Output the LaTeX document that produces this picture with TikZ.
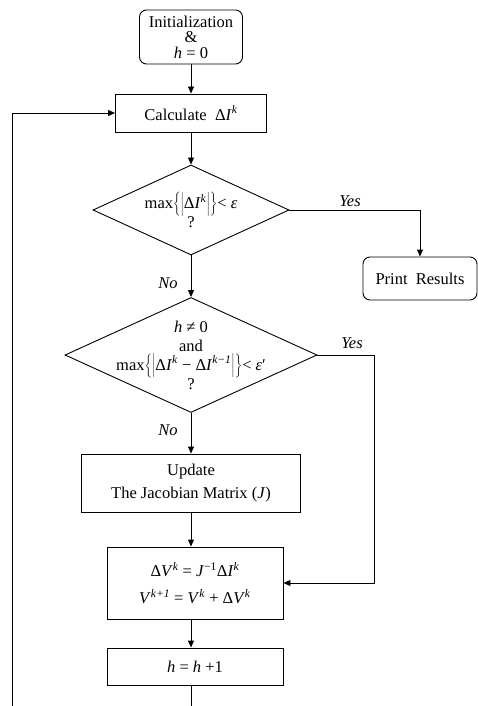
\documentclass[tikz,border=0pt]{standalone}
\usepackage{fontspec}
\setmainfont{Liberation Serif}
\usetikzlibrary{shapes.geometric,arrows.meta}
\newcommand{\vi}[1]{\textit{#1}}
\newcommand{\supi}[1]{\textsuperscript{\textit{#1}}}
\newcommand{\BL}{$\biggl\{\biggl|$}
\newcommand{\BR}{$\biggr|\biggr\}$}
\begin{document}
\begin{tikzpicture}[x=1pt,y=-1pt,
  font=\fontsize{16.5}{15.5}\selectfont,
  box/.style={draw, line width=0.9pt, inner sep=0pt, align=center},
  rbox/.style={box, rounded corners=7pt},
  dia/.style={draw, diamond, line width=0.9pt, inner sep=0pt},
  arr/.style={line width=0.9pt, -{Triangle[length=7pt,width=6pt]}},
  ln/.style={line width=0.9pt},
  lab/.style={font=\fontsize{16.5}{18}\selectfont\itshape}]
\useasboundingbox (0,0) rectangle (477,706);

\node[rbox, minimum width=103, minimum height=54] (init) at (191,37) {Initialization\\\&\\\vi{h} = 0};
\node[box, minimum width=151, minimum height=38] (calc) at (191,113) {Calculate\ \ Δ\vi{I}\supi{k}};
\node[dia, minimum width=196, minimum height=90,
  label={[align=center,font=\fontsize{16.5}{19}\selectfont]center:max\BL Δ\vi{I}\supi{k}\BR< \vi{ε}\\?}] (d1) at (191,210) {};
\node[rbox, minimum width=114, minimum height=43] (print) at (420,278.5) {Print\ \ Results};
\node[dia, minimum width=252, minimum height=115,
  label={[align=center,font=\fontsize{16.5}{19}\selectfont]center:\vi{h} ≠ 0\\and\\max\BL Δ\vi{I}\supi{k} − Δ\vi{I}\supi{k−1}\BR< \vi{ε}′\\?}] (d2) at (191,355) {};
\node[box, minimum width=219, minimum height=58, font=\fontsize{16.5}{23}\selectfont] (upd) at (191,483) {Update\\The Jacobian Matrix (\vi{J})};
\node[box, minimum width=176, minimum height=72, font=\fontsize{16.5}{27}\selectfont] (dv) at (195,583) {Δ\vi{V}\supi{k} = \vi{J}\textsuperscript{−1}Δ\vi{I}\supi{k}\\\vi{V}\supi{k+1} = \vi{V}\supi{k} + Δ\vi{V}\supi{k}};
\node[box, minimum width=176, minimum height=37] (hh) at (195,666.5) {\vi{h} = \vi{h} +1};

\node[lab] (yes1) at (350,201) {Yes};
\node[lab] (yes2) at (352,343) {Yes};
\node[lab] (no1) at (168,283) {No};
\node[lab] (no2) at (168,430) {No};

\coordinate (c1) at (374,355);
\coordinate (bot) at (191,706);
\coordinate (bl) at (12,706);

\draw[arr] (init) -- (calc);
\draw[arr] (calc) -- (d1);
\draw[arr] (d1.east) -| (print.north);
\draw[arr] (d1.south) -- (d2.north);
\draw[arr] (d2.east) -- (c1) |- (dv.east);
\draw[arr] (d2.south) -- (upd.north);
\draw[arr] (upd.south) -- (upd.south |- dv.north);
\draw[arr] (dv.south -| bot) -- (hh.north -| bot);
\draw[ln] (hh.south -| bot) -- (bot);
\draw[arr] (bl) |- (calc.west);
\end{tikzpicture}
\end{document}
